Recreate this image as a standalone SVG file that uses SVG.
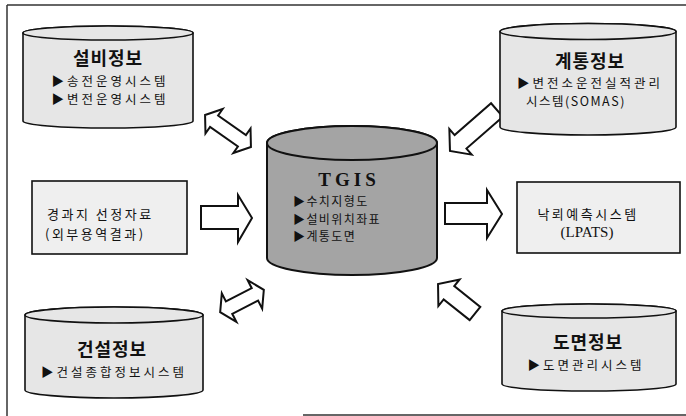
<svg xmlns="http://www.w3.org/2000/svg" width="686" height="416" viewBox="0 0 686 416">
<style>
.frame{stroke:#333;stroke-width:1.5;fill:none}
.cyl{fill:#e6e6e6;stroke:#111;stroke-width:1.6}
.cyld{fill:#a4a4a4;stroke:#111;stroke-width:2}
.box{fill:#efefef;stroke:#111;stroke-width:1.6}
.arr{fill:#fff;stroke:#111;stroke-width:2;stroke-linejoin:miter}
.h{font-family:"Noto Sans CJK KR","Noto Sans",sans-serif;font-weight:bold;font-size:18px;text-anchor:middle;fill:#111;letter-spacing:1px}
.t{font-family:"Noto Sans CJK KR","Noto Sans",sans-serif;font-size:12.5px;fill:#111;letter-spacing:3px}
.b{font-family:"Noto Sans CJK KR","Noto Sans",sans-serif;font-size:13px;fill:#111;letter-spacing:2.5px}
.m{text-anchor:middle}
.tg{font-family:"Liberation Serif","Times New Roman",serif;font-weight:bold;font-size:19px;text-anchor:middle;fill:#111;letter-spacing:4px}
.ts{font-family:"Noto Sans CJK KR","Noto Sans",sans-serif;font-size:12px;fill:#111;letter-spacing:1.4px}
.sf{font-family:"Liberation Serif","Times New Roman",serif;font-size:15px;fill:#111;text-anchor:middle}
</style>
<g id="frame">
<line class="frame" x1="7" y1="5" x2="686" y2="5"/>
<line class="frame" x1="7" y1="5" x2="7" y2="416"/>
<line class="frame" x1="303" y1="415" x2="686" y2="415"/>
</g>
<g id="connectors">
<polygon class="arr" points="-28,0 -17,-15 -17,-7 17,-7 17,-15 28,0 17,15 17,7 -17,7 -17,15" transform="translate(228,131) rotate(35)"/>
<polygon class="arr" points="-24.5,0 -14.5,-16 -14.5,-7 14.5,-7 14.5,-16 24.5,0 14.5,16 14.5,7 -14.5,7 -14.5,16" transform="translate(242,301) rotate(-27)"/>
<polygon class="arr" points="0,-9 48.4,-9 48.4,-17 62.4,0 48.4,17 48.4,9 0,9" transform="translate(497,110) rotate(138.9)"/>
<polygon class="arr" points="0,-8.5 33.3,-8.5 33.3,-17 47.3,0 33.3,17 33.3,8.5 0,8.5" transform="translate(475,313.5) rotate(-141.4)"/>
<polygon class="arr" points="201,206 238,206 238,195 252,218 238,242 238,229 201,229"/>
<polygon class="arr" points="445,203 487,203 487,190 502,214 487,238 487,224 445,224"/>
</g>
<g id="seolbi">
<path class="cyl" d="M193 33 A85 7 0 0 0 23 33 L23 121 A85 7 0 0 0 193 121 Z"/>
<ellipse class="cyl" cx="108" cy="33" rx="85" ry="7"/>
<text class="h" x="108" y="65">설비정보</text>
<text class="t m" x="110" y="85.5">▶송전운영시스템</text>
<text class="t m" x="110" y="103.5">▶변전운영시스템</text>
</g>
<g id="gyetong">
<path class="cyl" d="M676 31.5 A88 8 0 0 0 500 31.5 L500 127 A88 8 0 0 0 676 127 Z"/>
<ellipse class="cyl" cx="588" cy="31.5" rx="88" ry="8"/>
<text class="h" x="590" y="68">계통정보</text>
<text class="t m" x="590" y="88">▶변전소운전실적관리</text>
<text class="t" x="526" y="106" style="letter-spacing:1.5px">시스템(SOMAS)</text>
</g>
<g id="tgis">
<path class="cyld" d="M437 143 A85 17 0 0 0 267 143 L267 258 A85 17 0 0 0 437 258 Z"/>
<ellipse class="cyld" cx="352" cy="143" rx="85" ry="17"/>
<text class="tg" x="349" y="186">TGIS</text>
<text class="ts" x="293" y="206">▶수치지형도</text>
<text class="ts" x="293" y="223.5">▶설비위치좌표</text>
<text class="ts" x="293" y="241">▶계통도면</text>
</g>
<g id="route">
<rect class="box" x="32" y="181" width="155" height="73"/>
<text class="b" x="47" y="219">경과지 선정자료</text>
<text class="b" x="45" y="239">(외부용역결과)</text>
</g>
<g id="lpats">
<rect class="box" x="517" y="182" width="163" height="71"/>
<text class="b m" x="588" y="219">낙뢰예측시스템</text>
<text class="sf" x="587" y="236.5">(LPATS)</text>
</g>
<g id="geonseol">
<path class="cyl" d="M203 315 A89 8 0 0 0 25 315 L25 390 A89 8 0 0 0 203 390 Z"/>
<ellipse class="cyl" cx="114" cy="315" rx="89" ry="8"/>
<text class="h" x="112" y="356">건설정보</text>
<text class="t m" x="114" y="376.5">▶건설종합정보시스템</text>
</g>
<g id="domyeon">
<path class="cyl" d="M676 311 A87 7 0 0 0 502 311 L502 384 A87 7 0 0 0 676 384 Z"/>
<ellipse class="cyl" cx="589" cy="311" rx="87" ry="7"/>
<text class="h" x="588" y="349">도면정보</text>
<text class="t m" x="586" y="370">▶도면관리시스템</text>
</g>
</svg>
